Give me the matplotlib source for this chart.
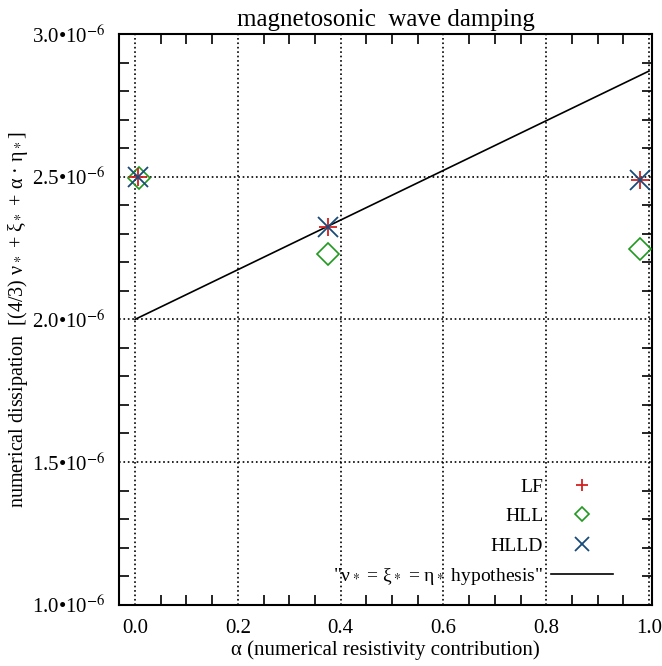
import matplotlib.pyplot as plt
from matplotlib.ticker import MultipleLocator, FuncFormatter

plt.rcParams['font.family'] = ['Liberation Serif', 'DejaVu Serif']
plt.rcParams['mathtext.fontset'] = 'stix'

# data
alpha_lf = [0.005, 0.375, 0.982]
diss_lf = [2.50e-6, 2.325e-6, 2.49e-6]
alpha_hll = [0.008, 0.375, 0.982]
diss_hll = [2.495e-6, 2.23e-6, 2.245e-6]
alpha_hlld = [0.005, 0.375, 0.982]
diss_hlld = [2.50e-6, 2.325e-6, 2.49e-6]
alpha_hyp = [0.0, 1.0]
diss_hyp = [2.0e-6, 2.87e-6]

fig = plt.figure(figsize=(6.62, 6.66), dpi=100)
ax = fig.add_axes([0.18, 0.092, 0.805, 0.857])

ax.plot(alpha_lf, diss_lf, ls='none', marker='+', ms=13, mew=1.3,
        color='#d42020', label='LF', zorder=4)
ax.plot(alpha_hll, diss_hll, ls='none', marker='D', ms=11, mew=1.2,
        mfc='none', mec='#1e9a1e', label='HLL', zorder=3)
ax.plot(alpha_hlld, diss_hlld, ls='none', marker='x', ms=15, mew=1.3,
        color='#1a4a7a', label='HLLD', zorder=5)
ax.plot(alpha_hyp, diss_hyp, color='black', lw=1.2,
        label='"ν$_*$ = ξ$_*$ = η$_*$ hypothesis"', zorder=2)

ax.set_xlim(-0.031, 1.006)
ax.set_ylim(1.0e-6, 3.0e-6)

ax.xaxis.set_major_locator(MultipleLocator(0.2))
ax.xaxis.set_minor_locator(MultipleLocator(0.05))
ax.yaxis.set_major_locator(MultipleLocator(0.5e-6))
ax.yaxis.set_minor_locator(MultipleLocator(0.1e-6))
ax.xaxis.set_major_formatter(FuncFormatter(lambda v, p: f'{v:.1f}'))
ax.yaxis.set_major_formatter(
    FuncFormatter(lambda v, p: f'{v * 1e6:.1f}•10$^{{-6}}$'))

ax.tick_params(which='both', direction='in', top=True, right=True,
               labelsize=15, width=1.2)
ax.tick_params(which='major', length=0, pad=10)
ax.tick_params(which='minor', length=7)
ax.grid(True, which='major', ls=':', color='black', lw=1.2)

for s in ax.spines.values():
    s.set_linewidth(1.5)

ax.set_title('magnetosonic  wave damping', fontsize=18, pad=6)
ax.set_xlabel('α (numerical resistivity contribution)', fontsize=15,
              labelpad=2)
ax.set_ylabel('numerical dissipation  [(4/3) ν$_*$ + ξ$_*$ + α · η$_*$]',
              fontsize=14.5, labelpad=1)

ax.legend(loc='lower right', bbox_to_anchor=(0.96, 0.0), frameon=False,
          markerfirst=False, fontsize=14, handlelength=3.2,
          labelspacing=0.6, handletextpad=0.4, markerscale=0.68)

fig.savefig('out.png', dpi=100)
